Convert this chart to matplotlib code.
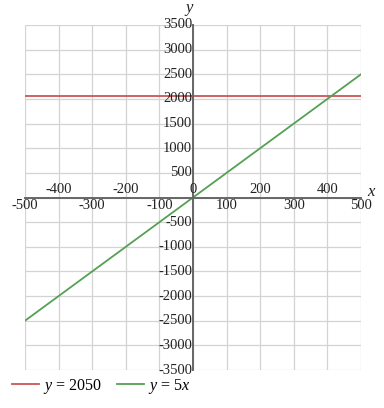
import matplotlib
matplotlib.use("Agg")
import matplotlib.pyplot as plt
import numpy as np

x_range = [-500, 500]
line1_y = [2050, 2050]
line2_slope = 5
line2_y = [line2_slope * x_range[0], line2_slope * x_range[1]]
x_ticks = [-500, -400, -300, -200, -100, 0, 100, 200, 300, 400, 500]
y_ticks = [-3500, -3000, -2500, -2000, -1500, -1000, -500, 0, 500, 1000, 1500, 2000, 2500, 3000, 3500]

RED = "#cc5555"
GREEN = "#55a055"
plt.rcParams['font.family'] = ['Liberation Serif', 'DejaVu Serif']
plt.rcParams['mathtext.fontset'] = 'custom'
plt.rcParams['mathtext.rm'] = 'Liberation Serif'
plt.rcParams['mathtext.it'] = 'Liberation Serif:italic'

W, H = 384, 408
fig = plt.figure(figsize=(W/100, H/100), dpi=100)
ax = fig.add_axes([25/W, (H-370)/H, (361-25)/W, (370-25)/H])
ax.set_xlim(-500, 500)
ax.set_ylim(-3500, 3500)

ax.plot(x_range, line1_y, color=RED, lw=1.3, label=r"$y\,=\,2050$")
ax.plot(x_range, line2_y, color=GREEN, lw=1.3, label=r"$y\,=\,5x$")

ax.set_xticks(x_ticks)
ax.set_yticks(y_ticks)
ax.grid(True, color="#d3d3d3", lw=0.9)
ax.set_axisbelow(True)
ax.tick_params(length=0, labelbottom=False, labelleft=False)
for s in ["top", "right"]:
    ax.spines[s].set_visible(False)
ax.spines["left"].set_position(("data", 0))
ax.spines["bottom"].set_position(("data", 0))
for s in ["left", "bottom"]:
    ax.spines[s].set_color("#666666")
    ax.spines[s].set_linewidth(1.4)

fs = 10.5
for i, t in enumerate(x_ticks):
    if i % 2 == 0:
        ax.annotate(str(t), (t, 0), xytext=(0, -1), textcoords="offset points",
                    ha="center", va="top", fontsize=fs, color="#222222")
    else:
        ax.annotate(str(t), (t, 0), xytext=(0, 1), textcoords="offset points",
                    ha="center", va="bottom", fontsize=fs, color="#222222")
for t in y_ticks:
    if t == 0:
        continue
    ax.annotate(str(t), (0, t), xytext=(-0.5, 0), textcoords="offset points",
                ha="right", va="center", fontsize=fs, color="#222222")

ax.annotate("y", (0, 3500), xytext=(-3, 12), textcoords="offset points",
            ha="center", va="center", fontsize=12, style="italic", color="#222222")
ax.annotate("x", (500, 0), xytext=(7, 4), textcoords="offset points",
            ha="center", va="center", fontsize=12, style="italic", color="#222222")

leg = fig.legend(loc="lower left", bbox_to_anchor=(0.0, 0.0), ncol=2, frameon=False,
                 fontsize=11.5, handlelength=1.7, handletextpad=0.25, columnspacing=0.9,
                 borderaxespad=0.35)
fig.savefig("out.png", dpi=100)
